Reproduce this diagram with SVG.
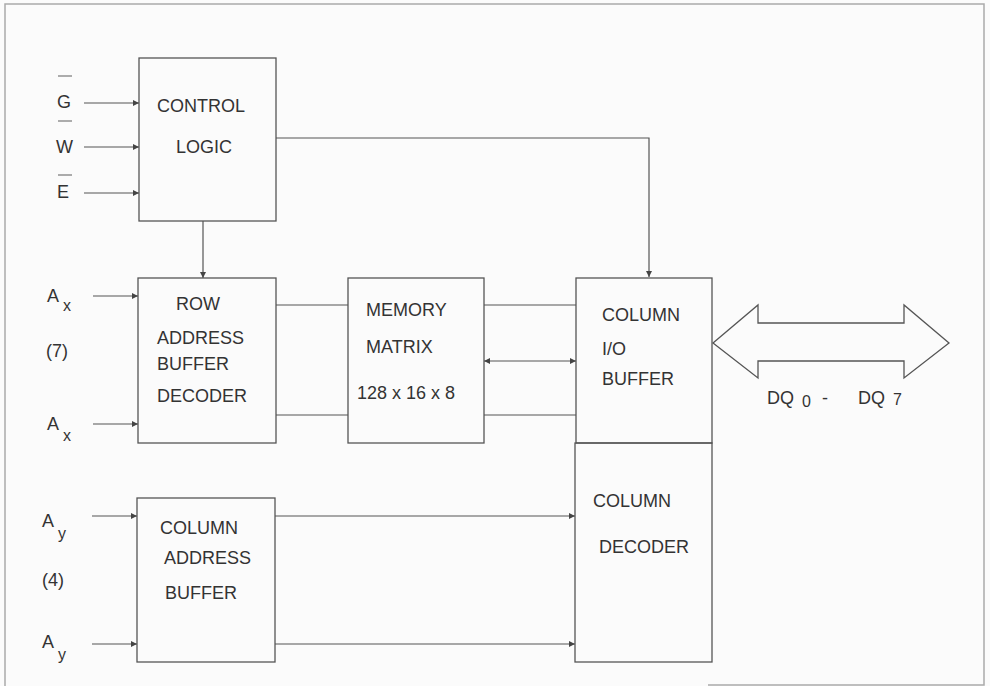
<svg xmlns="http://www.w3.org/2000/svg" width="990" height="686" viewBox="0 0 990 686">
<defs>
<marker id="ah" viewBox="0 0 10 10" refX="10" refY="5" markerWidth="8" markerHeight="6" markerUnits="userSpaceOnUse" orient="auto-start-reverse">
<path d="M0,0 L10,5 L0,10 z" fill="#444"/>
</marker>
<style>
.box{fill:none;stroke:#555;stroke-width:1.3}
.ln{fill:none;stroke:#555;stroke-width:1.2}
.arr{fill:none;stroke:#555;stroke-width:1.2;marker-end:url(#ah)}
.t{font-family:"Liberation Sans",Arial,sans-serif;font-size:18px;fill:#333}
.sub{font-family:"Liberation Sans",Arial,sans-serif;font-size:16px;fill:#333}
.frame{fill:none;stroke:#aaa;stroke-width:1.5}
</style>
</defs>
<rect width="990" height="686" fill="#fbfbfb"/>
<path class="frame" d="M5,686 V4 H984 V685 H708"/>

<g id="connectors">
<line class="arr" x1="84" y1="103" x2="139" y2="103"/>
<line class="arr" x1="84" y1="147" x2="139" y2="147"/>
<line class="arr" x1="84" y1="193" x2="139" y2="193"/>
<path class="arr" d="M276,138 H649 V277"/>
<line class="arr" x1="203" y1="221" x2="203" y2="278"/>
<line class="arr" x1="93" y1="296" x2="138" y2="296"/>
<line class="arr" x1="93" y1="424" x2="138" y2="424"/>
<line class="ln" x1="276" y1="305" x2="348" y2="305"/>
<line class="ln" x1="276" y1="415" x2="348" y2="415"/>
<line class="ln" x1="484" y1="305" x2="576" y2="305"/>
<line class="ln" x1="484" y1="415" x2="576" y2="415"/>
<line class="arr" x1="484" y1="361" x2="576" y2="361" style="marker-start:url(#ah)"/>
<line class="arr" x1="92" y1="516" x2="137" y2="516"/>
<line class="arr" x1="92" y1="644" x2="137" y2="644"/>
<line class="arr" x1="275" y1="516" x2="575" y2="516"/>
<line class="arr" x1="275" y1="644" x2="575" y2="644"/>
<path class="box" d="M713,343 L758,305 V323 H904 V305 L949,343 L904,378 V361 H758 V378 Z"/>
</g>

<g id="inputs">
<text class="t" x="57" y="108">G</text>
<line class="ln" x1="58" y1="76" x2="72" y2="76" style="stroke:#777"/>
<text class="t" x="56" y="153">W</text>
<line class="ln" x1="58" y1="121" x2="72" y2="121" style="stroke:#777"/>
<text class="t" x="57" y="198">E</text>
<line class="ln" x1="58" y1="175" x2="72" y2="175" style="stroke:#777"/>
<text class="t" x="47" y="302">A</text><text class="sub" x="63" y="311">x</text>
<text class="t" x="46" y="357">(7)</text>
<text class="t" x="47" y="430">A</text><text class="sub" x="63" y="441">x</text>
<text class="t" x="42" y="527">A</text><text class="sub" x="58" y="539">y</text>
<text class="t" x="42" y="586">(4)</text>
<text class="t" x="42" y="648">A</text><text class="sub" x="58" y="660">y</text>
</g>

<g id="control-logic">
<rect class="box" x="139" y="58" width="137" height="163"/>
<text class="t" x="157" y="112">CONTROL</text>
<text class="t" x="176" y="153">LOGIC</text>
</g>

<g id="row-address-buffer-decoder">
<rect class="box" x="138" y="278" width="138" height="165"/>
<text class="t" x="176" y="310">ROW</text>
<text class="t" x="157" y="344">ADDRESS</text>
<text class="t" x="157" y="370">BUFFER</text>
<text class="t" x="157" y="402">DECODER</text>
</g>

<g id="memory-matrix">
<rect class="box" x="348" y="278" width="136" height="165"/>
<text class="t" x="366" y="316">MEMORY</text>
<text class="t" x="366" y="353">MATRIX</text>
<text class="t" x="357" y="399">128 x 16 x 8</text>
</g>

<g id="column-io-buffer">
<rect class="box" x="576" y="278" width="136" height="165"/>
<text class="t" x="602" y="321">COLUMN</text>
<text class="t" x="602" y="355">I/O</text>
<text class="t" x="602" y="385">BUFFER</text>
</g>

<g id="column-decoder">
<rect class="box" x="575" y="443" width="137" height="219"/>
<text class="t" x="593" y="507">COLUMN</text>
<text class="t" x="599" y="553">DECODER</text>
</g>

<g id="column-address-buffer">
<rect class="box" x="137" y="498" width="138" height="164"/>
<text class="t" x="160" y="534">COLUMN</text>
<text class="t" x="164" y="564">ADDRESS</text>
<text class="t" x="165" y="599">BUFFER</text>
</g>

<g id="dq-label">
<text class="t" x="767" y="404">DQ</text><text class="sub" x="802" y="407">0</text><text class="t" x="822" y="404">-</text>
<text class="t" x="858" y="404">DQ</text><text class="sub" x="893" y="405">7</text>
</g>
</svg>
